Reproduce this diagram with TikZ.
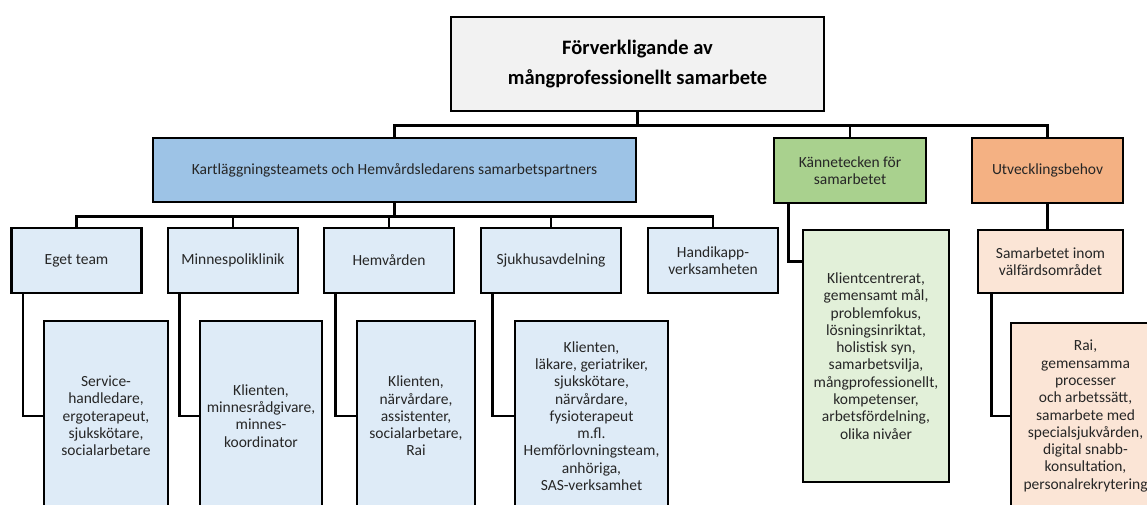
\documentclass[tikz,border=0pt]{standalone}
\usepackage{fontspec}
\setmainfont{Carlito}
\definecolor{topgray}{HTML}{F2F2F2}
\definecolor{kartblue}{HTML}{9DC3E6}
\definecolor{lightblue}{HTML}{DEEBF7}
\definecolor{kgreen}{HTML}{A9D18E}
\definecolor{lightgreen}{HTML}{E2F0D9}
\definecolor{korange}{HTML}{F4B183}
\definecolor{lightorange}{HTML}{FBE5D6}
\begin{document}
\begin{tikzpicture}[x=1pt,y=-1pt,
    box/.style={draw=black,line width=2.8pt,align=center,inner sep=2pt,
      text=black!85,font=\fontsize{15.5}{17.3}\selectfont},
    child/.style={box,fill=lightblue,minimum width=130,minimum height=65},
    link/.style={draw=black,line width=2.5pt}]
  \useasboundingbox (0,0) rectangle (1147,504);
  % top level
  \node[box,fill=topgray,text=black,minimum width=373,minimum height=94,
    font=\fontsize{20.5}{30}\selectfont\bfseries] (top) at (637.5,64)
    {Förverkligande av\\mångprofessionellt samarbete};
  \node[box,fill=kartblue,minimum width=483,minimum height=64] (kart) at (394.5,170)
    {Kartläggningsteamets och Hemvårdsledarens samarbetspartners};
  \node[box,fill=kgreen,minimum width=152,minimum height=65] (kann) at (850,170.5)
    {Kännetecken för\\samarbetet};
  \node[box,fill=korange,minimum width=151,minimum height=65] (utv) at (1047.5,170.5)
    {Utvecklingsbehov};
  % partners
  \node[child] (eget) at (76.5,260.5) {Eget team};
  \node[child] (minnes) at (233,260.5) {Minnespoliklinik};
  \node[child] (hemv) at (389,260.5) {Hemvården};
  \node[child,minimum width=140] (sjukh) at (551,260.5) {Sjukhusavdelning};
  \node[child] (handi) at (713,260.5) {Handikapp-\\verksamheten};
  \node[box,fill=lightorange,minimum width=145,minimum height=63] (valf) at (1050.5,261.5)
    {Samarbetet inom\\välfärdsområdet};
  % contents
  \node[box,fill=lightblue,minimum width=124,minimum height=190] (egetc) at (106,416)
    {Service-\\handledare,\\ergoterapeut,\\sjukskötare,\\socialarbetare};
  \node[box,fill=lightblue,minimum width=122,minimum height=190] (minnesc) at (261,416)
    {Klienten,\\minnesrådgivare,\\minnes-\\koordinator};
  \node[box,fill=lightblue,minimum width=118,minimum height=190] (hemvc) at (416,416)
    {Klienten,\\närvårdare,\\assistenter,\\socialarbetare,\\Rai};
  \node[box,fill=lightblue,minimum width=153,minimum height=190] (sjukhc) at (591.5,416)
    {Klienten,\\läkare, geriatriker,\\sjukskötare,\\närvårdare,\\fysioterapeut\\m.fl.\\Hemförlovningsteam,\\anhöriga,\\SAS-verksamhet};
  \node[box,fill=lightgreen,minimum width=146,minimum height=252] (kannc) at (876,356)
    {Klientcentrerat,\\gemensamt mål,\\problemfokus,\\lösningsinriktat,\\holistisk syn,\\samarbetsvilja,\\mångprofessionellt,\\kompetenser,\\arbetsfördelning,\\olika nivåer};
  \node[box,fill=lightorange,minimum width=149,minimum height=186] (utvc) at (1085.5,416)
    {Rai,\\gemensamma\\processer\\och arbetssätt,\\samarbete med\\specialsjukvården,\\digital snabb-\\konsultation,\\personalrekrytering};
  % connectors
  \foreach \n in {kart,kann,utv}
    \draw[link] (top.south) -- +(0,13) -| (\n.north);
  \foreach \n in {eget,minnes,hemv,sjukh,handi}
    \draw[link] (kart.south) -- +(0,13) -| (\n.north);
  \foreach \n in {eget,minnes,hemv,sjukh}
    \draw[link] ([xshift=13pt]\n.south west) |- (\n c.west);
  \draw[link] ([xshift=16pt]kann.south west) |- ([yshift=-33pt]kannc.north west);
  \draw[link] (utv.south) -- (utv.south |- valf.north);
  \draw[link] ([xshift=15pt]valf.south west) |- (utvc.west);
\end{tikzpicture}
\end{document}
